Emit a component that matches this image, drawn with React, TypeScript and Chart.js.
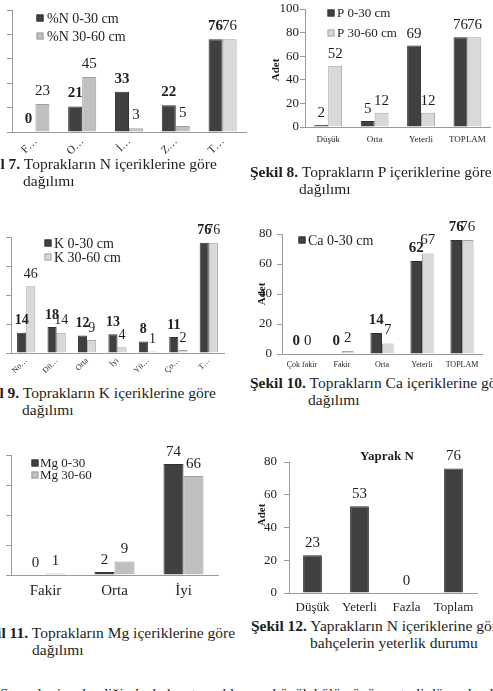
import React, { useEffect, useRef } from "react";
import { Chart, registerables } from "chart.js";

Chart.register(...registerables);

const SERIF = '"Liberation Serif", "Times New Roman", Times, serif';
const INK = "#1e1e1e";
const AXIS = "#9a9a9a";
const DARK = "#404040";

// Şekil 7 – toprak N
const nCategories = ["F…", "O…", "İ…", "Z…", "T…"];
const nTopsoil = [0, 21, 33, 22, 76];
const nSubsoil = [23, 45, 3, 5, 76];

// Şekil 8 – toprak P
const pCategories = ["Düşük", "Orta", "Yeterli", "TOPLAM"];
const pTopsoil = [2, 5, 69, 76];
const pSubsoil = [52, 12, 12, 76];

// Şekil 9 – toprak K
const kCategories = ["No…", "Dü…", "Orta", "İyi", "Yü…", "Ço…", "T…"];
const kTopsoil = [14, 18, 12, 13, 8, 11, 76];
const kSubsoil = [46, 14, 9, 4, 1, 2, 76];

// Şekil 10 – toprak Ca
const caCategories = ["Çok fakir", "Fakir", "Orta", "Yeterli", "TOPLAM"];
const caTopsoil = [0, 0, 14, 62, 76];
const caSubsoil = [0, 2, 7, 67, 76];

// Şekil 11 – toprak Mg
const mgCategories = ["Fakir", "Orta", "İyi"];
const mgTopsoil = [0, 2, 74];
const mgSubsoil = [1, 9, 66];

// Şekil 12 – yaprak N
const leafCategories = ["Düşük", "Yeterli", "Fazla", "Toplam"];
const leafValues = [23, 53, 0, 76];

type SeriesSpec = {
  label: string;
  data: number[];
  fill: string | string[];
  stroke: string;
  bold: boolean;
};

type LegendSpec = { dx: number; dy: number; gap: number; size: number; count: number; textGap: number };

type ChartSpec = {
  labels: string[];
  series: SeriesSpec[];
  yMax: number;
  yStep: number;
  yWidth: number;
  xHeight: number;
  padTop: number;
  padRight: number;
  yLabels: boolean;
  yFont: number;
  yTickPad: number;
  yTitle?: { text: string; x: number; y: number };
  xFont: number;
  xRotation: number;
  xPad: number;
  catPct: number;
  valueFont: number;
  valueOffset: number;
  legend?: LegendSpec;
  heading?: { text: string; dx: number; dy: number; size: number };
};

const decorPlugin = {
  id: "sheetDecor",
  afterDatasetsDraw(chart: any, _args: any, opts: any) {
    const { ctx, chartArea } = chart;
    ctx.save();
    // value labels above every bar
    chart.data.datasets.forEach((ds: any, i: number) => {
      const meta = chart.getDatasetMeta(i);
      const bold = opts.bold[i];
      ctx.font = `${bold ? "bold " : ""}${opts.valueFont}px ${SERIF}`;
      ctx.fillStyle = INK;
      ctx.textAlign = "center";
      ctx.textBaseline = "middle";
      meta.data.forEach((bar: any, j: number) => {
        ctx.fillText(String(ds.data[j]), bar.x, bar.y - opts.valueOffset);
      });
    });
    // legend inside the plot
    const lg = opts.legend;
    if (lg) {
      ctx.font = `${lg.size}px ${SERIF}`;
      ctx.textAlign = "left";
      ctx.textBaseline = "middle";
      for (let i = 0; i < lg.count; i++) {
        const ds = chart.data.datasets[i];
        const cx = chartArea.left + lg.dx;
        const cy = chartArea.top + lg.dy + i * lg.gap;
        const sq = 7;
        const fill = Array.isArray(ds.backgroundColor) ? ds.backgroundColor[0] : ds.backgroundColor;
        ctx.fillStyle = fill;
        ctx.fillRect(cx - sq / 2, cy - sq / 2, sq, sq);
        ctx.strokeStyle = ds.borderColor;
        ctx.lineWidth = 1;
        ctx.strokeRect(cx - sq / 2 + 0.5, cy - sq / 2 + 0.5, sq - 1, sq - 1);
        ctx.fillStyle = INK;
        ctx.fillText(ds.label, cx + lg.textGap, cy + 1);
      }
    }
    // chart heading
    const hd = opts.heading;
    if (hd) {
      ctx.font = `bold ${hd.size}px ${SERIF}`;
      ctx.fillStyle = INK;
      ctx.textAlign = "center";
      ctx.textBaseline = "middle";
      ctx.fillText(hd.text, chartArea.left + hd.dx, chartArea.top + hd.dy);
    }
    // rotated y-axis title
    const yt = opts.yTitle;
    if (yt) {
      ctx.translate(yt.x, yt.y);
      ctx.rotate(-Math.PI / 2);
      ctx.font = `bold 11px ${SERIF}`;
      ctx.fillStyle = INK;
      ctx.textAlign = "center";
      ctx.textBaseline = "middle";
      ctx.fillText(yt.text, 0, 0);
    }
    ctx.restore();
  },
};

function buildConfig(spec: ChartSpec): any {
  return {
    type: "bar",
    data: {
      labels: spec.labels,
      datasets: spec.series.map((s) => ({
        label: s.label,
        data: s.data,
        backgroundColor: s.fill,
        borderColor: s.stroke,
        borderWidth: 1,
        categoryPercentage: spec.catPct,
        barPercentage: 1,
      })),
    },
    options: {
      responsive: false,
      animation: false,
      events: [],
      layout: { padding: { left: 0, top: spec.padTop, right: spec.padRight, bottom: 0 } },
      plugins: {
        legend: { display: false },
        tooltip: { enabled: false },
        title: { display: false },
        sheetDecor: {
          bold: spec.series.map((s) => s.bold),
          valueFont: spec.valueFont,
          valueOffset: spec.valueOffset,
          legend: spec.legend,
          heading: spec.heading,
          yTitle: spec.yTitle,
        },
      },
      scales: {
        x: {
          grid: { display: false, drawTicks: false },
          border: { display: true, color: AXIS, width: 1 },
          ticks: {
            autoSkip: false,
            maxRotation: spec.xRotation,
            minRotation: spec.xRotation,
            padding: spec.xPad,
            color: INK,
            font: { family: SERIF, size: spec.xFont },
          },
          afterFit: (s: any) => {
            s.height = spec.xHeight;
          },
        },
        y: {
          min: 0,
          max: spec.yMax,
          grid: { display: true, drawOnChartArea: false, drawTicks: true, tickLength: 5, color: AXIS },
          border: { display: true, color: AXIS, width: 1 },
          ticks: {
            display: spec.yLabels,
            stepSize: spec.yStep,
            padding: spec.yTickPad,
            color: INK,
            font: { family: SERIF, size: spec.yFont },
          },
          title: { display: false },
          afterFit: (s: any) => {
            s.width = spec.yWidth;
          },
        },
      },
    },
    plugins: [decorPlugin],
  };
}

function BarPanel(props: { left: number; top: number; width: number; height: number; spec: ChartSpec }) {
  const ref = useRef<HTMLCanvasElement | null>(null);
  useEffect(() => {
    if (!ref.current) return;
    const chart = new Chart(ref.current, buildConfig(props.spec));
    return () => chart.destroy();
  }, []);
  return (
    <canvas
      ref={ref}
      width={props.width}
      height={props.height}
      style={{ position: "absolute", left: props.left, top: props.top, width: props.width, height: props.height }}
    />
  );
}

function Caption(props: { left: number; top: number; num: string; text: string; indent: number; second: string }) {
  const base: React.CSSProperties = {
    position: "absolute",
    whiteSpace: "nowrap",
    fontFamily: SERIF,
    fontSize: 15.5,
    lineHeight: "17px",
    color: INK,
  };
  return (
    <>
      <div style={{ ...base, left: props.left, top: props.top }}>
        <b>{props.num}</b> {props.text}
      </div>
      <div style={{ ...base, left: props.indent, top: props.top + 17 }}>{props.second}</div>
    </>
  );
}

const nSpec: ChartSpec = {
  labels: nCategories,
  series: [
    { label: "%N 0-30 cm", data: nTopsoil, fill: DARK, stroke: "#333", bold: true },
    { label: "%N 30-60 cm", data: nSubsoil, fill: ["#c0c0c0", "#c0c0c0", "#c0c0c0", "#c0c0c0", "#d9d9d9"], stroke: "#a0a0a0", bold: false },
  ],
  yMax: 100, yStep: 20, yWidth: 12, xHeight: 28, padTop: 10, padRight: 4,
  yLabels: false, yFont: 12, yTickPad: 2,
  xFont: 11, xRotation: 45, xPad: 3, catPct: 0.6,
  valueFont: 15, valueOffset: 13,
  legend: { dx: 28, dy: 8, gap: 18, size: 14, count: 2, textGap: 7 },
};

const pSpec: ChartSpec = {
  labels: pCategories,
  series: [
    { label: "P 0-30 cm", data: pTopsoil, fill: DARK, stroke: "#333", bold: false },
    { label: "P 30-60 cm", data: pSubsoil, fill: "#d9d9d9", stroke: "#a6a6a6", bold: false },
  ],
  yMax: 100, yStep: 20, yWidth: 50, xHeight: 23, padTop: 9, padRight: 1,
  yLabels: true, yFont: 13, yTickPad: 1, yTitle: { text: "Adet", x: 21, y: 70 },
  xFont: 9, xRotation: 0, xPad: 7, catPct: 0.6,
  valueFont: 15, valueOffset: 12,
  legend: { dx: 26, dy: 4, gap: 20, size: 13, count: 2, textGap: 6 },
};

const kSpec: ChartSpec = {
  labels: kCategories,
  series: [
    { label: "K 0-30 cm", data: kTopsoil, fill: DARK, stroke: "#333", bold: true },
    { label: "K 30-60 cm", data: kSubsoil, fill: "#d9d9d9", stroke: "#a6a6a6", bold: false },
  ],
  yMax: 80, yStep: 20, yWidth: 11, xHeight: 30, padTop: 22, padRight: 4,
  yLabels: false, yFont: 12, yTickPad: 2,
  xFont: 8, xRotation: 45, xPad: 3, catPct: 0.6,
  valueFont: 14, valueOffset: 12,
  legend: { dx: 37, dy: 6, gap: 14, size: 14, count: 2, textGap: 6 },
};

const caSpec: ChartSpec = {
  labels: caCategories,
  series: [
    { label: "Ca 0-30 cm", data: caTopsoil, fill: DARK, stroke: "#333", bold: true },
    { label: "Ca 30-60 cm", data: caSubsoil, fill: "#d9d9d9", stroke: "#a6a6a6", bold: false },
  ],
  yMax: 80, yStep: 20, yWidth: 32, xHeight: 20, padTop: 19, padRight: 6,
  yLabels: true, yFont: 13, yTickPad: 5, yTitle: { text: "Adet", x: 12, y: 79 },
  xFont: 8, xRotation: 0, xPad: 6, catPct: 0.58,
  valueFont: 15, valueOffset: 13,
  legend: { dx: 20, dy: 6, gap: 16, size: 14, count: 1, textGap: 6 },
};

const mgSpec: ChartSpec = {
  labels: mgCategories,
  series: [
    { label: "Mg 0-30", data: mgTopsoil, fill: DARK, stroke: "#333", bold: false },
    { label: "Mg 30-60", data: mgSubsoil, fill: "#bfbfbf", stroke: "#a0a0a0", bold: false },
  ],
  yMax: 80, yStep: 20, yWidth: 11, xHeight: 25, padTop: 15, padRight: 4,
  yLabels: false, yFont: 12, yTickPad: 2,
  xFont: 15, xRotation: 0, xPad: 7, catPct: 0.58,
  valueFont: 15, valueOffset: 12,
  legend: { dx: 24, dy: 8, gap: 12, size: 13, count: 2, textGap: 5 },
};

const leafSpec: ChartSpec = {
  labels: leafCategories,
  series: [{ label: "Yaprak N", data: leafValues, fill: DARK, stroke: "#333", bold: false }],
  yMax: 80, yStep: 20, yWidth: 39, xHeight: 22, padTop: 22, padRight: 6,
  yLabels: true, yFont: 13, yTickPad: 7, yTitle: { text: "Adet", x: 12, y: 75 },
  xFont: 13, xRotation: 0, xPad: 7, catPct: 0.4,
  valueFont: 15, valueOffset: 12,
  heading: { text: "Yaprak N", dx: 98, dy: -5, size: 13 },
};

export default function App() {
  return (
    <div
      style={{
        position: "fixed",
        left: 0,
        top: 0,
        width: 493,
        height: 691,
        overflow: "hidden",
        background: "#ffffff",
      }}
    >
      <BarPanel left={0} top={0} width={250} height={160} spec={nSpec} />
      <BarPanel left={255} top={0} width={238} height={150} spec={pSpec} />
      <BarPanel left={0} top={215} width={228} height={168} spec={kSpec} />
      <BarPanel left={250} top={215} width={238} height={159} spec={caSpec} />
      <BarPanel left={0} top={440} width={222} height={160} spec={mgSpec} />
      <BarPanel left={250} top={440} width={233} height={175} spec={leafSpec} />

      <Caption left={-28} top={155} num="Şekil 7." text="Toprakların N içeriklerine göre" indent={23} second="dağılımı" />
      <Caption left={250} top={163} num="Şekil 8." text="Toprakların P içeriklerine göre" indent={299} second="dağılımı" />
      <Caption left={-29} top={384} num="Şekil 9." text="Toprakların K içeriklerine göre" indent={22} second="dağılımı" />
      <Caption left={250} top={374} num="Şekil 10." text="Toprakların Ca içeriklerine göre" indent={308} second="dağılımı" />
      <Caption left={-27} top={624} num="Şekil 11." text="Toprakların Mg içeriklerine göre" indent={32} second="dağılımı" />
      <Caption left={251} top={617} num="Şekil 12." text="Yaprakların N içeriklerine göre" indent={310} second="bahçelerin yeterlik durumu" />

      <div
        style={{
          position: "absolute",
          left: 0,
          top: 686,
          whiteSpace: "nowrap",
          fontFamily: SERIF,
          fontSize: 15,
          lineHeight: "17px",
          color: INK,
        }}
      >
        Sonuçlar incelendiğinde, bahçe topraklarının büyük bölümünün yeterli düzeyde olduğu görülmektedir.
      </div>
    </div>
  );
}
